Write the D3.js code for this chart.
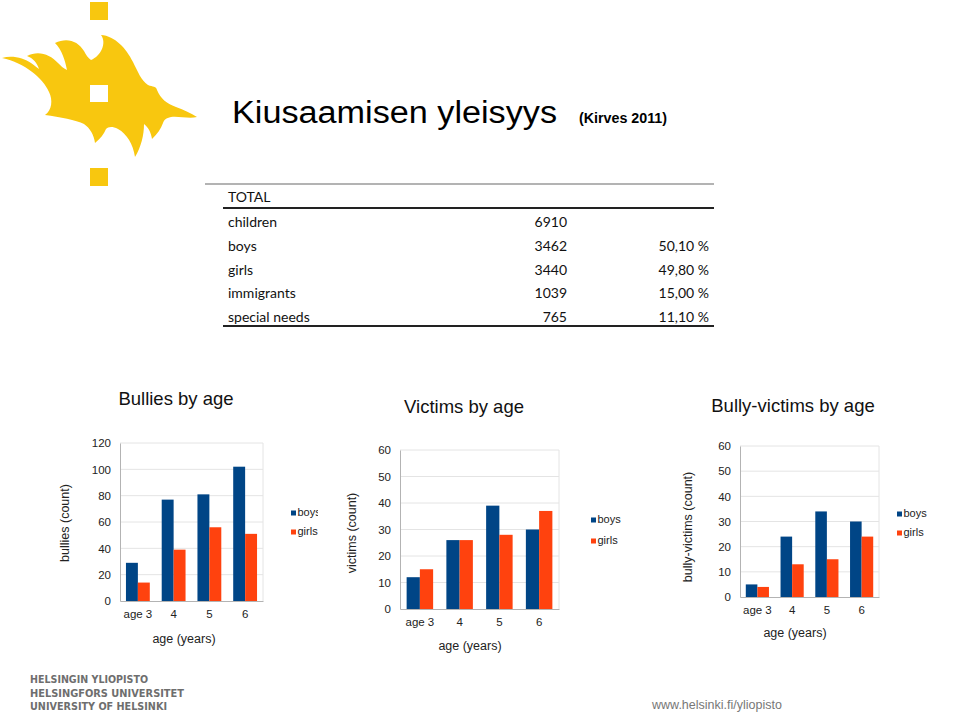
<!DOCTYPE html>
<html lang="fi">
<head>
<meta charset="UTF-8">
<title>Kiusaamisen yleisyys</title>
<script src="https://cdn.jsdelivr.net/npm/d3@7"></script>
<style>
  body { margin: 0; background: #fff; }
  svg { display: block; font-family: "Liberation Sans", Arial, sans-serif; }
  .tbl text { font-family: Lato, "Open Sans", sans-serif; font-size: 14px; fill: #111; }
  .axis text { font-size: 11.5px; fill: #222; font-family: "Liberation Sans", Arial, sans-serif; }
  .axis path { stroke: #b3b3b3; }
  .grid line { stroke: #e4e4e4; }
  .ctitle { font-size: 18.5px; fill: #111; }
  .atitle { font-size: 12.5px; fill: #222; }
  .leg text { font-size: 11px; fill: #222; }
  .foot { font-family: "Liberation Sans Narrow", "DejaVu Sans Condensed", sans-serif; font-stretch: condensed; font-weight: bold; font-size: 11px; fill: #6e6e6e; }
</style>
</head>
<body>
<script>
// ---- data ----
const ages = ["age 3", "4", "5", "6"];
const seriesNames = ["boys", "girls"];
const seriesColors = ["#004586", "#ff420e"];

const bulliesBoys = [29, 77, 81, 102];
const bulliesGirls = [14, 39, 56, 51];
const victimsBoys = [12, 26, 39, 30];
const victimsGirls = [15, 26, 28, 37];
const bvBoys = [5, 24, 34, 30];
const bvGirls = [4, 13, 15, 24];

const ticks120 = [0, 20, 40, 60, 80, 100, 120];
const ticks60 = [0, 10, 20, 30, 40, 50, 60];

const tableHead = "TOTAL";
const tableLabels = ["children", "boys", "girls", "immigrants", "special needs"];
const tableCounts = ["6910", "3462", "3440", "1039", "765"];
const tablePercents = ["", "50,10 %", "49,80 %", "15,00 %", "11,10 %"];

const footerLines = ["HELSINGIN YLIOPISTO", "HELSINGFORS UNIVERSITET", "UNIVERSITY OF HELSINKI"];

const svg = d3.select("body").append("svg")
  .attr("width", 960).attr("height", 716);

// ---- logo ----
const yellow = "#f8c70f";
const logo = svg.append("g");
logo.append("path")
  .attr("fill", yellow)
  .attr("d", "M2,58 C12,55 24,58 31,63 C34,65 36,67 39,69 C37,63 33,58 27,56 " +
    "C38,50 50,54 58,63 C61,66 63,68 67,70 C65,60 62,50 55,43 " +
    "C67,37 78,41 84,51 C86,55 88,58 91,60 C101,56 107,43 101,35 " +
    "C115,36 126,48 133,62 C138,72 141,80 148,85 C153,87 156,86 157,90 " +
    "C161,99 166,103 176,107 C184,110 191,113 197,117 " +
    "C189,119 179,116 171,117 C166,118 164,120 163,123 " +
    "C161,129 157,134 152,139 C151,132 148,127 144,124 " +
    "C144,135 141,147 135,157 C133,144 127,134 118,129 C112,126 108,127 106,129 " +
    "C104,134 100,139 95,143 C94,135 90,128 84,124 " +
    "C76,120 60,117 45,115 C52,110 53,100 49,92 " +
    "C43,78 25,63 2,58 Z");
logo.append("rect").attr("x", 90).attr("y", 85).attr("width", 18).attr("height", 17).attr("fill", "#fff");
logo.append("rect").attr("x", 90).attr("y", 2).attr("width", 18).attr("height", 18).attr("fill", yellow);
logo.append("rect").attr("x", 90).attr("y", 168).attr("width", 18).attr("height", 18).attr("fill", yellow);

// ---- title ----
svg.append("text").attr("x", 232).attr("y", 123).attr("fill", "#000")
  .style("font-size", "31px")
  .attr("textLength", 325).attr("lengthAdjust", "spacingAndGlyphs")
  .text("Kiusaamisen yleisyys");
svg.append("text").attr("x", 579).attr("y", 123).attr("fill", "#000")
  .style("font-size", "14px").style("font-weight", "bold")
  .attr("textLength", 88).attr("lengthAdjust", "spacingAndGlyphs")
  .text("(Kirves 2011)");

// ---- table ----
const tbl = svg.append("g").attr("class", "tbl");
tbl.append("line").attr("x1", 205).attr("x2", 714).attr("y1", 184).attr("y2", 184)
  .attr("stroke", "#9a9a9a").attr("stroke-width", 1.5);
tbl.append("text").attr("x", 228).attr("y", 202).text(tableHead);
tbl.append("line").attr("x1", 223).attr("x2", 714).attr("y1", 208).attr("y2", 208)
  .attr("stroke", "#222").attr("stroke-width", 2);
const rowY = d3.scalePoint().domain(tableLabels).range([227, 322]);
tbl.selectAll(".lab").data(tableLabels).join("text")
  .attr("x", 228).attr("y", d => rowY(d)).text(d => d);
tbl.selectAll(".cnt").data(tableCounts).join("text")
  .attr("x", 567).attr("y", (d, i) => rowY(tableLabels[i])).attr("text-anchor", "end").text(d => d);
tbl.selectAll(".pct").data(tablePercents).join("text")
  .attr("x", 709).attr("y", (d, i) => rowY(tableLabels[i])).attr("text-anchor", "end").text(d => d);
tbl.append("line").attr("x1", 223).attr("x2", 714).attr("y1", 326).attr("y2", 326)
  .attr("stroke", "#222").attr("stroke-width", 2);

// ---- charts ----
function drawChart(c, boys, girls, yTicks) {
  const g = svg.append("g");
  const x = d3.scaleBand().domain(ages).range([c.x0, c.x1]);
  const bw = x.bandwidth();
  const xs = d3.scaleBand().domain(seriesNames).range([bw / 6, bw * 5 / 6]);
  const y = d3.scaleLinear().domain([0, d3.max(yTicks)]).range([c.yb, c.yt]);

  g.append("g").attr("class", "grid")
    .selectAll("line").data(yTicks.slice(1)).join("line")
    .attr("x1", c.x0).attr("x2", c.x1)
    .attr("y1", d => y(d)).attr("y2", d => y(d));
  g.append("line").attr("x1", c.x1).attr("x2", c.x1).attr("y1", c.yt).attr("y2", c.yb)
    .attr("stroke", "#e4e4e4");

  const rows = ages.map((a, i) => [boys[i], girls[i]]);
  g.append("g").selectAll("g").data(rows).join("g")
    .attr("transform", (d, i) => `translate(${x(ages[i])},0)`)
    .selectAll("rect").data(d => d).join("rect")
    .attr("x", (d, j) => xs(seriesNames[j]))
    .attr("width", xs.bandwidth())
    .attr("y", d => y(d))
    .attr("height", d => y(0) - y(d))
    .attr("fill", (d, j) => seriesColors[j]);

  g.append("g").attr("class", "axis")
    .attr("transform", `translate(${c.x0},0)`)
    .call(d3.axisLeft(y).tickValues(yTicks).tickSize(0).tickPadding(9));
  g.append("g").attr("class", "axis")
    .attr("transform", `translate(0,${c.yb})`)
    .call(d3.axisBottom(x).tickSize(0).tickPadding(8.5));

  g.append("text").attr("class", "ctitle").attr("x", c.titleX).attr("y", c.titleY)
    .attr("text-anchor", "middle").text(c.title);
  g.append("text").attr("class", "atitle").attr("x", c.xtX).attr("y", c.xtY)
    .attr("text-anchor", "middle").text("age (years)");
  g.append("text").attr("class", "atitle")
    .attr("transform", `translate(${c.ytX},${c.ytY}) rotate(-90)`)
    .attr("text-anchor", "middle").attr("dy", "0.35em").text(c.yLabel);

  const leg = g.append("g").attr("class", "leg");
  if (c.clip) {
    const id = "clip" + Math.round(c.legX);
    svg.append("clipPath").attr("id", id).append("rect")
      .attr("x", 0).attr("y", 0).attr("width", c.clip).attr("height", 716);
    leg.attr("clip-path", `url(#${id})`);
  }
  const ly = d3.scalePoint().domain(seriesNames).range([c.legY, c.legY + c.legGap]);
  leg.selectAll("rect").data(seriesNames).join("rect")
    .attr("x", c.legX).attr("y", d => ly(d) - 5.5).attr("width", 5).attr("height", 5)
    .attr("fill", (d, i) => seriesColors[i]);
  leg.selectAll("text").data(seriesNames).join("text")
    .attr("x", c.legX + 6.5).attr("y", d => ly(d)).text(d => d);
}

drawChart({ title: "Bullies by age", yLabel: "bullies (count)",
  x0: 120, x1: 263, yt: 443, yb: 601,
  titleX: 176, titleY: 405, xtX: 184, xtY: 643, ytX: 65, ytY: 523,
  legX: 291, legY: 516, legGap: 19, clip: 318 }, bulliesBoys, bulliesGirls, ticks120);

drawChart({ title: "Victims by age", yLabel: "victims (count)",
  x0: 400, x1: 559, yt: 450, yb: 609,
  titleX: 464, titleY: 413, xtX: 470, xtY: 650, ytX: 352, ytY: 533,
  legX: 591, legY: 523, legGap: 21 }, victimsBoys, victimsGirls, ticks60);

drawChart({ title: "Bully-victims by age", yLabel: "bully-victims (count)",
  x0: 740, x1: 879, yt: 446, yb: 597,
  titleX: 793, titleY: 412, xtX: 795, xtY: 637, ytX: 688, ytY: 527,
  legX: 897, legY: 517, legGap: 19 }, bvBoys, bvGirls, ticks60);

// ---- footer ----
const footY = d3.scalePoint().domain(footerLines).range([683, 710]);
const footW = [118, 154, 137];
svg.selectAll(".foot").data(footerLines).join("text")
  .attr("class", "foot")
  .attr("x", 30).attr("y", d => footY(d))
  .attr("textLength", (d, i) => footW[i]).attr("lengthAdjust", "spacingAndGlyphs")
  .text(d => d);
svg.append("text").attr("x", 652).attr("y", 709)
  .attr("fill", "#777").style("font-size", "12.5px")
  .text("www.helsinki.fi/yliopisto");
</script>
</body>
</html>
